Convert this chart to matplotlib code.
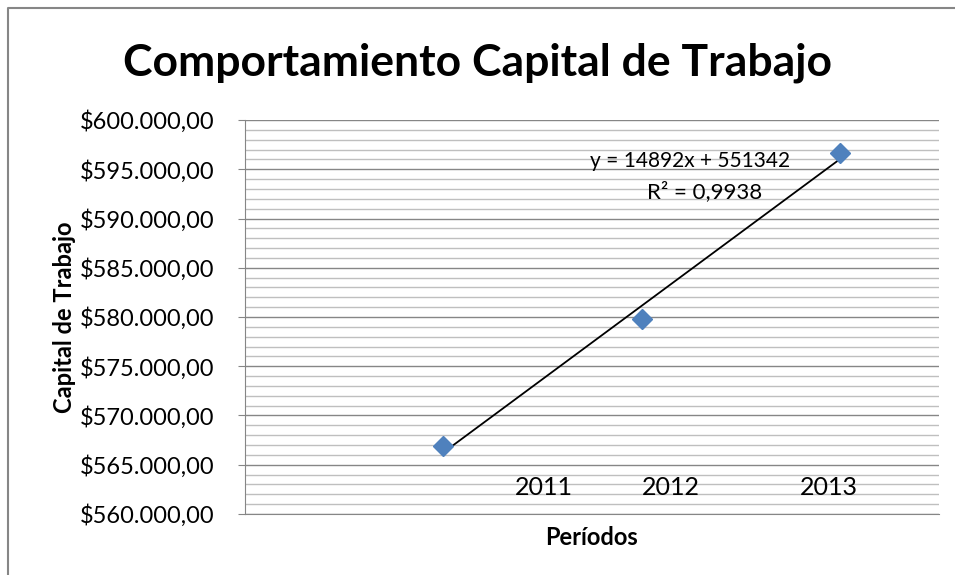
import numpy as np
import matplotlib.pyplot as plt
from matplotlib.lines import Line2D
from matplotlib.ticker import MultipleLocator, FuncFormatter

plt.rcParams['font.family'] = ['Lato', 'DejaVu Sans']

# data
x_vals = [1, 2, 3]
capital = [566913, 579768, 596697]
years = ['2011', '2012', '2013']
year_pos = [1.51, 2.146, 2.944]

slope, intercept = np.polyfit(x_vals, capital, 1)

fig = plt.figure(figsize=(9.55, 5.75), dpi=100)
ax = fig.add_axes([0.2565, 0.1061, 0.7267, 0.6852])

ax.set_xlim(0, 3.5)
ax.set_ylim(560000, 600000)

ax.yaxis.set_major_locator(MultipleLocator(5000))
ax.yaxis.set_minor_locator(MultipleLocator(1000))
ax.grid(which='major', axis='y', color='#868686', lw=1.0)
ax.grid(which='minor', axis='y', color='#bfbfbf', lw=1.0)
ax.set_axisbelow(True)

def money(v, pos):
    s = f"{v:,.2f}".replace(",", "X").replace(".", ",").replace("X", ".")
    return "$" + s
ax.yaxis.set_major_formatter(FuncFormatter(money))
ax.tick_params(axis='y', which='major', length=5, color='#868686', labelsize=17, pad=17)
ax.tick_params(axis='y', which='minor', length=0)
ax.set_xticks([])

for s in ['top', 'right']:
    ax.spines[s].set_visible(False)
ax.spines['left'].set_color('#868686')
ax.spines['bottom'].set_color('#868686')

# trend line
xt = np.array([1, 3])
ax.plot(xt, slope * xt + intercept, color='black', lw=1.3, zorder=3)
ax.plot(x_vals, capital, linestyle='none', marker='D', markersize=10,
        color='#4F81BD', zorder=4)

ax.text(2.247, 595800, 'y = 14892x + 551342', fontsize=15, ha='center', va='center')
ax.text(2.318, 592700, 'R² = 0,9938', fontsize=16, ha='center', va='center')

for lab, xp in zip(years, year_pos):
    ax.text(xp, 562740, lab, fontsize=18, ha='center', va='center')

ax.set_xlabel('Períodos', fontsize=17, fontweight='bold', labelpad=9)
ax.set_ylabel('Capital de Trabajo', fontsize=17, fontweight='bold', labelpad=3)

fig.text(0.5, 0.891, 'Comportamiento Capital de Trabajo', fontsize=32,
         fontweight='bold', ha='center', va='center')

# outer chart border
fig.add_artist(Line2D([8/955, 8/955, 1], [0, 1 - 8/575, 1 - 8/575],
                      transform=fig.transFigure, color='#868686', lw=1.5))

fig.savefig('out.png', dpi=100)
